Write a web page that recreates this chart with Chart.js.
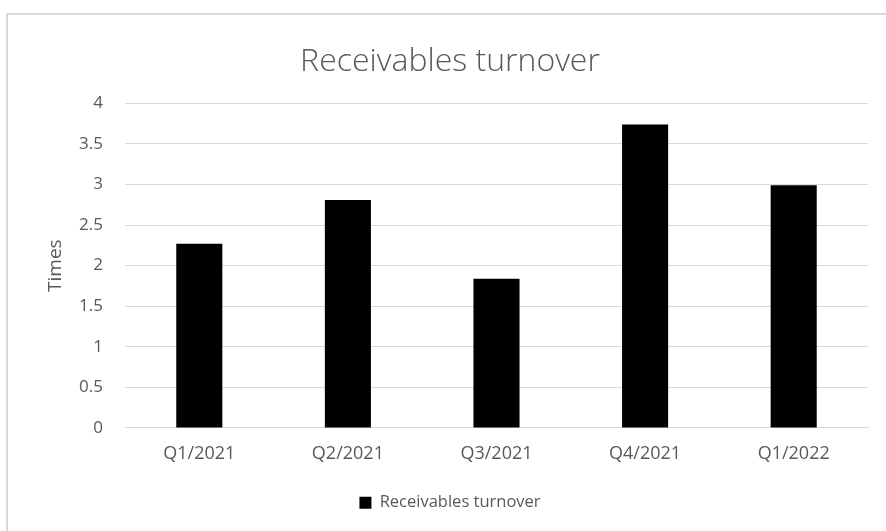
<!DOCTYPE html>
<html>
<head>
<meta charset="utf-8">
<script src="https://cdn.jsdelivr.net/npm/chart.js@4/dist/chart.umd.min.js"></script>
<style>
  html, body { margin: 0; padding: 0; background: #fff; overflow: hidden; }
  #wrap { position: relative; width: 886px; height: 531px; }
  #frame { position: absolute; left: 6px; top: 13px; width: 900px; height: 560px;
           border: 2px solid #d9d9d9; box-sizing: border-box; pointer-events: none; }
</style>
</head>
<body>
<div id="wrap">
  <canvas id="chart" width="886" height="531"></canvas>
  <div id="frame"></div>
</div>
<script>
const quarters = ['Q1/2021', 'Q2/2021', 'Q3/2021', 'Q4/2021', 'Q1/2022'];
const turnover = [2.27, 2.81, 1.84, 3.74, 2.99];
const seriesName = 'Receivables turnover';
const yTicks = { min: 0, max: 4, step: 0.5 };

const grey = '#595959';
const font = '"Open Sans", sans-serif';
const padLeft = 32;

const ctx = document.getElementById('chart').getContext('2d');
new Chart(ctx, {
    type: 'bar',
    data: {
        labels: quarters,
        datasets: [{
            label: seriesName,
            data: turnover,
            backgroundColor: '#000000',
            borderWidth: 0,
            categoryPercentage: 1,
            barPercentage: 0.31
        }]
    },
    options: {
        responsive: false,
        animation: false,
        layout: { padding: { left: padLeft, right: 18, top: 0, bottom: 10 } },
        plugins: {
            title: {
                display: true,
                text: seriesName,
                color: grey,
                font: { family: font, size: 32, weight: 300 },
                padding: { top: 43, bottom: 22 }
            },
            legend: {
                position: 'bottom',
                labels: {
                    color: grey,
                    font: { family: font, size: 16.5 },
                    boxWidth: 12,
                    boxHeight: 12,
                    padding: 23
                }
            },
            tooltip: { enabled: false }
        },
        scales: {
            x: {
                grid: { display: false },
                border: { color: '#d9d9d9', width: 1 },
                ticks: { color: grey, font: { family: font, size: 18 }, padding: 7, maxRotation: 0 }
            },
            y: {
                min: yTicks.min,
                max: yTicks.max,
                afterFit: (scale) => { scale.width = 125 - padLeft; },
                grid: { color: '#d9d9d9', drawTicks: false },
                border: { display: false },
                ticks: {
                    stepSize: yTicks.step,
                    color: grey,
                    font: { family: font, size: 17 },
                    padding: 22,
                    callback: (v) => String(v)
                },
                title: {
                    display: true,
                    text: 'Times',
                    color: grey,
                    font: { family: font, size: 19 },
                    padding: { top: 55 - padLeft - 11 }
                }
            }
        }
    }
});
</script>
</body>
</html>
